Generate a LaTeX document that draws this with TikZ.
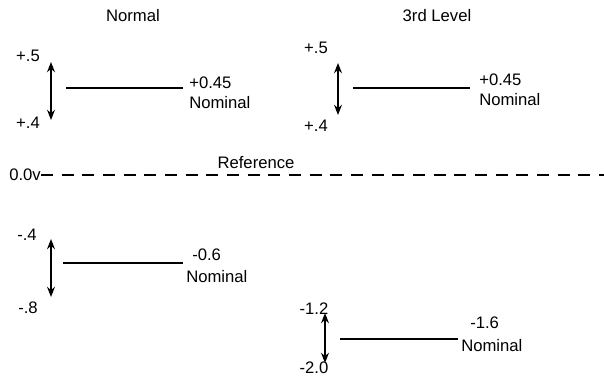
\documentclass[tikz,border=0pt]{standalone}
\usepackage{fontspec}
\setmainfont{Liberation Sans}
\usepackage{tikz}
\usetikzlibrary{arrows.meta}
\tikzset{
  >={Stealth[length=2.7mm,width=2.1mm]},
  lab/.style={font=\fontsize{12.5}{14}\selectfont,inner sep=0pt,text=black},
  vlab/.style={lab,anchor=west},
  rng/.style={<->,line width=1pt},
  lvl/.style={line width=1.1pt},
  refl/.style={line width=1.1pt,dash pattern=on 9pt off 6.5pt},
}
\begin{document}
\begin{tikzpicture}[x=0.75pt,y=-0.75pt]
\useasboundingbox (0,0) rectangle (604,381);
% headings
\node[lab] (hdN) at (133,16) {Normal};
\node[lab] (hdT) at (437,16) {3rd Level};
% normal, positive level
\node[lab] (nHi) at (28,56) {+.5};
\node[lab] (nLo) at (28,123) {+.4};
\coordinate (nA) at (51,62);
\coordinate (nB) at (51,120);
\draw[rng] (nA) -- (nB);
\coordinate (nL) at (66,88);
\coordinate (nR) at (183,88);
\draw[lvl] (nL) -- (nR);
\node[vlab] (nVal) at (189,83) {+0.45};
\node[vlab] (nNom) at (189,103) {Nominal};
% 3rd level, positive level
\node[lab] (tHi) at (316,48) {+.5};
\node[lab] (tLo) at (316,126) {+.4};
\coordinate (tA) at (338,63);
\coordinate (tB) at (338,115);
\draw[rng] (tA) -- (tB);
\coordinate (tL) at (353,88);
\coordinate (tR) at (470,88);
\draw[lvl] (tL) -- (tR);
\node[vlab] (tVal) at (479,80) {+0.45};
\node[vlab] (tNom) at (479,100) {Nominal};
% reference
\node[vlab] (zero) at (9,175) {0.0v};
\coordinate (refR) at (604,175);
\draw[refl] (zero.east) -- (refR);
\node[lab] (ref) at (256,163) {Reference};
% normal, negative level
\node[lab] (mHi) at (27,235) {-.4};
\node[lab] (mLo) at (28,308) {-.8};
\coordinate (mA) at (51,239);
\coordinate (mB) at (51,297);
\draw[rng] (mA) -- (mB);
\coordinate (mL) at (63,263);
\coordinate (mR) at (183,263);
\draw[lvl] (mL) -- (mR);
\node[vlab] (mVal) at (192,255) {-0.6};
\node[vlab] (mNom) at (186,277) {Nominal};
% 3rd level, negative level
\node[lab] (bHi) at (314,309) {-1.2};
\node[lab] (bLo) at (314,368) {-2.0};
\coordinate (bA) at (325,313);
\coordinate (bB) at (325,363);
\draw[rng] (bA) -- (bB);
\coordinate (bL) at (340,339);
\coordinate (bR) at (458,339);
\draw[lvl] (bL) -- (bR);
\node[vlab] (bVal) at (470,323) {-1.6};
\node[vlab] (bNom) at (461,346) {Nominal};
\end{tikzpicture}
\end{document}
